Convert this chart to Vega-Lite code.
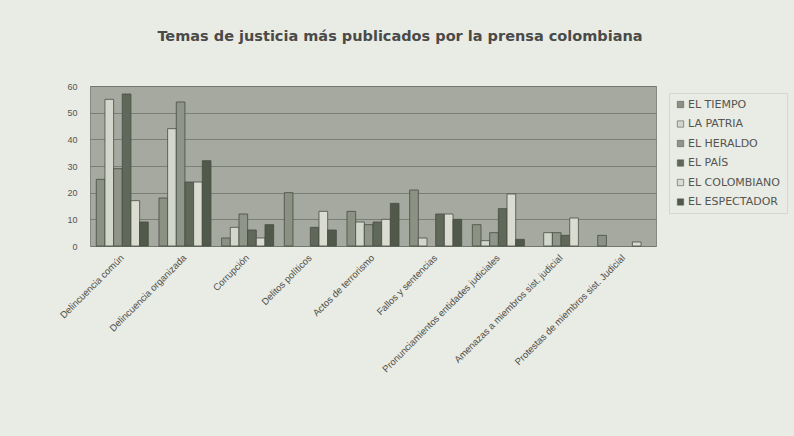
{
  "$schema": "https://vega.github.io/schema/vega-lite/v6.json",
  "autosize": "none",
  "width": 566,
  "height": 160,
  "padding": {"left": 90, "top": 86, "right": 138, "bottom": 190},
  "background": "#e9ebe5",
  "title": {
    "text": "Temas de justicia más publicados por la prensa colombiana",
    "font": "DejaVu Sans",
    "fontSize": 14.5,
    "fontWeight": "bold",
    "color": "#4a4a48",
    "anchor": "middle",
    "baseline": "bottom",
    "offset": 24,
    "dx": 27
  },
  "data": {
    "values": [
      {"tema": "Delincuencia común", "diario": "EL TIEMPO", "valor": 25},
      {"tema": "Delincuencia común", "diario": "LA PATRIA", "valor": 55},
      {"tema": "Delincuencia común", "diario": "EL HERALDO", "valor": 29},
      {"tema": "Delincuencia común", "diario": "EL PAÍS", "valor": 57},
      {"tema": "Delincuencia común", "diario": "EL COLOMBIANO", "valor": 17},
      {"tema": "Delincuencia común", "diario": "EL ESPECTADOR", "valor": 9},
      {"tema": "Delincuencia organizada", "diario": "EL TIEMPO", "valor": 18},
      {"tema": "Delincuencia organizada", "diario": "LA PATRIA", "valor": 44},
      {"tema": "Delincuencia organizada", "diario": "EL HERALDO", "valor": 54},
      {"tema": "Delincuencia organizada", "diario": "EL PAÍS", "valor": 24},
      {"tema": "Delincuencia organizada", "diario": "EL COLOMBIANO", "valor": 24},
      {"tema": "Delincuencia organizada", "diario": "EL ESPECTADOR", "valor": 32},
      {"tema": "Corrupción", "diario": "EL TIEMPO", "valor": 3},
      {"tema": "Corrupción", "diario": "LA PATRIA", "valor": 7},
      {"tema": "Corrupción", "diario": "EL HERALDO", "valor": 12},
      {"tema": "Corrupción", "diario": "EL PAÍS", "valor": 6},
      {"tema": "Corrupción", "diario": "EL COLOMBIANO", "valor": 3},
      {"tema": "Corrupción", "diario": "EL ESPECTADOR", "valor": 8},
      {"tema": "Delitos políticos", "diario": "EL TIEMPO", "valor": 20},
      {"tema": "Delitos políticos", "diario": "LA PATRIA", "valor": 0},
      {"tema": "Delitos políticos", "diario": "EL HERALDO", "valor": 0},
      {"tema": "Delitos políticos", "diario": "EL PAÍS", "valor": 7},
      {"tema": "Delitos políticos", "diario": "EL COLOMBIANO", "valor": 13},
      {"tema": "Delitos políticos", "diario": "EL ESPECTADOR", "valor": 6},
      {"tema": "Actos de terrorismo", "diario": "EL TIEMPO", "valor": 13},
      {"tema": "Actos de terrorismo", "diario": "LA PATRIA", "valor": 9},
      {"tema": "Actos de terrorismo", "diario": "EL HERALDO", "valor": 8},
      {"tema": "Actos de terrorismo", "diario": "EL PAÍS", "valor": 9},
      {"tema": "Actos de terrorismo", "diario": "EL COLOMBIANO", "valor": 10},
      {"tema": "Actos de terrorismo", "diario": "EL ESPECTADOR", "valor": 16},
      {"tema": "Fallos y sentencias", "diario": "EL TIEMPO", "valor": 21},
      {"tema": "Fallos y sentencias", "diario": "LA PATRIA", "valor": 3},
      {"tema": "Fallos y sentencias", "diario": "EL HERALDO", "valor": 0},
      {"tema": "Fallos y sentencias", "diario": "EL PAÍS", "valor": 12},
      {"tema": "Fallos y sentencias", "diario": "EL COLOMBIANO", "valor": 12},
      {"tema": "Fallos y sentencias", "diario": "EL ESPECTADOR", "valor": 10},
      {"tema": "Pronunciamientos entidades judiciales", "diario": "EL TIEMPO", "valor": 8},
      {"tema": "Pronunciamientos entidades judiciales", "diario": "LA PATRIA", "valor": 2},
      {"tema": "Pronunciamientos entidades judiciales", "diario": "EL HERALDO", "valor": 5},
      {"tema": "Pronunciamientos entidades judiciales", "diario": "EL PAÍS", "valor": 14},
      {"tema": "Pronunciamientos entidades judiciales", "diario": "EL COLOMBIANO", "valor": 19.5},
      {"tema": "Pronunciamientos entidades judiciales", "diario": "EL ESPECTADOR", "valor": 2.5},
      {"tema": "Amenazas a miembros sist. judicial", "diario": "EL TIEMPO", "valor": 0},
      {"tema": "Amenazas a miembros sist. judicial", "diario": "LA PATRIA", "valor": 5},
      {"tema": "Amenazas a miembros sist. judicial", "diario": "EL HERALDO", "valor": 5},
      {"tema": "Amenazas a miembros sist. judicial", "diario": "EL PAÍS", "valor": 4},
      {"tema": "Amenazas a miembros sist. judicial", "diario": "EL COLOMBIANO", "valor": 10.5},
      {"tema": "Amenazas a miembros sist. judicial", "diario": "EL ESPECTADOR", "valor": 0},
      {"tema": "Protestas de miembros sist. Judicial", "diario": "EL TIEMPO", "valor": 4},
      {"tema": "Protestas de miembros sist. Judicial", "diario": "LA PATRIA", "valor": 0},
      {"tema": "Protestas de miembros sist. Judicial", "diario": "EL HERALDO", "valor": 0},
      {"tema": "Protestas de miembros sist. Judicial", "diario": "EL PAÍS", "valor": 0},
      {"tema": "Protestas de miembros sist. Judicial", "diario": "EL COLOMBIANO", "valor": 1.5},
      {"tema": "Protestas de miembros sist. Judicial", "diario": "EL ESPECTADOR", "valor": 0}
    ]
  },
  "transform": [{"filter": "datum.valor > 0"}],
  "mark": {"type": "bar", "stroke": "#474c42", "strokeWidth": 0.8},
  "encoding": {
    "x": {
      "field": "tema",
      "type": "nominal",
      "sort": null,
      "scale": {"paddingInner": 0.17, "paddingOuter": 0.1},
      "axis": {
        "title": null,
        "labelAngle": -45,
        "labelAlign": "right",
        "labelBaseline": "middle",
        "labelFont": "Liberation Sans",
        "labelFontSize": 9.5,
        "labelColor": "#505049",
        "labelPadding": 10,
        "ticks": false,
        "domain": false,
        "labelLimit": 300
      }
    },
    "xOffset": {
      "field": "diario",
      "type": "nominal",
      "sort": ["EL TIEMPO", "LA PATRIA", "EL HERALDO", "EL PAÍS", "EL COLOMBIANO", "EL ESPECTADOR"],
      "scale": {"paddingInner": 0, "paddingOuter": 0}
    },
    "y": {
      "field": "valor",
      "type": "quantitative",
      "scale": {"domain": [0, 60], "nice": false},
      "axis": {
        "title": null,
        "values": [0, 10, 20, 30, 40, 50, 60],
        "labelFont": "Liberation Sans",
        "labelFontSize": 9,
        "labelColor": "#555550",
        "labelPadding": 13,
        "ticks": false,
        "domain": false,
        "grid": true,
        "gridColor": "#6f7468",
        "gridWidth": 0.8
      }
    },
    "color": {
      "field": "diario",
      "type": "nominal",
      "scale": {
        "domain": ["EL TIEMPO", "LA PATRIA", "EL HERALDO", "EL PAÍS", "EL COLOMBIANO", "EL ESPECTADOR"],
        "range": ["#8b9283", "#d3d6cb", "#8f9588", "#60685a", "#dadcd2", "#515a4a"]
      },
      "legend": {
        "title": null,
        "orient": "none",
        "legendX": 579,
        "legendY": 7,
        "padding": 6,
        "strokeColor": "#d4d6cf",
        "symbolType": "square",
        "symbolSize": 40,
        "symbolStrokeColor": "#555a50",
        "symbolStrokeWidth": 0.6,
        "labelFont": "DejaVu Sans",
        "labelFontSize": 11,
        "labelColor": "#555550",
        "labelOffset": 2,
        "rowPadding": 7.5
      }
    }
  },
  "config": {
    "view": {"fill": "#a5a99f", "stroke": "#85897f", "strokeWidth": 1}
  }
}
